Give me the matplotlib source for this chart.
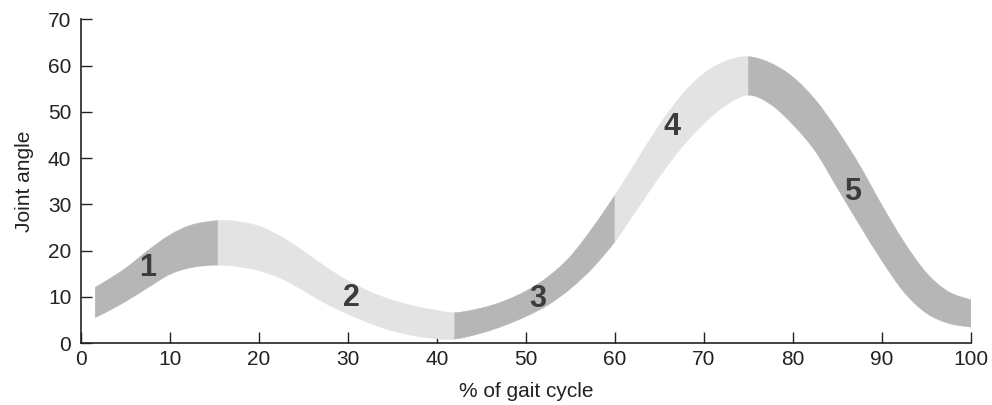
import numpy as np
import matplotlib
matplotlib.use("Agg")
import matplotlib.pyplot as plt
from matplotlib.path import Path
from matplotlib.patches import PathPatch

plt.rcParams['font.family'] = ['Liberation Sans', 'DejaVu Sans']

# Knee joint angle envelope over the gait cycle (upper and lower edge of the band)
gait_pct = [1.6, 2.5, 5, 7.5, 10, 12.5, 15.4, 17.5, 20, 22.5, 25, 27.5, 30,
            32.5, 35, 37.5, 40, 42, 45, 47.5, 50, 52.5, 55, 57.5, 60, 62.5,
            65, 67.5, 70, 72.5, 75, 77.5, 80, 82.5, 85, 87.5, 90, 92.5, 95,
            97.5, 100]
angle_upper = [12.1, 13.1, 16.2, 20.0, 23.4, 25.6, 26.5, 26.3, 25.3, 23.0,
               19.9, 16.5, 13.5, 11.1, 9.3, 8.0, 7.1, 6.6, 7.6, 9.1, 11.3,
               14.4, 18.8, 25.0, 32.0, 39.6, 47.2, 53.6, 58.3, 61.0, 61.9,
               60.5, 57.5, 52.6, 46.0, 38.4, 29.8, 21.8, 15.2, 11.1, 9.4]
angle_lower = [5.6, 6.4, 9.0, 12.0, 14.9, 16.4, 16.9, 16.6, 15.7, 14.0, 11.4,
               8.6, 6.3, 4.3, 2.7, 1.6, 1.0, 0.9, 2.2, 3.8, 5.8, 8.3, 11.8,
               16.3, 22.0, 29.0, 36.0, 42.3, 47.5, 51.5, 53.6, 51.6, 47.2,
               41.5, 33.5, 25.5, 17.8, 11.0, 6.5, 4.3, 3.5]

# Phase boundaries (% of gait cycle), labels and label anchor points
phase_bounds = [1.6, 15.4, 42, 60, 75, 100]
phase_names = ["1", "2", "3", "4", "5"]
phase_label_x = [7.5, 30.4, 51.3, 66.4, 86.7]
phase_label_y = [16.2, 9.8, 9.5, 46.7, 32.6]

x_ticks = [0, 10, 20, 30, 40, 50, 60, 70, 80, 90, 100]
y_ticks = [0, 10, 20, 30, 40, 50, 60, 70]

dark_grey = "#b6b6b6"
light_grey = "#e3e3e3"
phase_colors = [dark_grey, light_grey, dark_grey, light_grey, dark_grey]

x = np.array(gait_pct, dtype=float)
hi = np.array(angle_upper, dtype=float)
lo = np.array(angle_lower, dtype=float)


def smooth_edge(xs, ys, i0, i1, reverse=False):
    """Cubic Bezier pieces (Catmull-Rom tangents) along an edge from i0 to i1."""
    n = len(xs)
    pts = np.column_stack([xs, ys])
    verts = []
    order = range(i0, i1) if not reverse else range(i1, i0, -1)
    step = 1 if not reverse else -1
    for i in order:
        j = i + step
        p_prev = pts[max(min(i - step, n - 1), 0)]
        p0 = pts[i]
        p1 = pts[j]
        p_next = pts[max(min(j + step, n - 1), 0)]
        c1 = p0 + (p1 - p_prev) / 6.0
        c2 = p1 - (p_next - p0) / 6.0
        verts.extend([tuple(c1), tuple(c2), tuple(p1)])
    return verts


fig = plt.figure(figsize=(9.92, 4.05), dpi=100)
ax = fig.add_axes([81 / 992, 61.7 / 405, 890 / 992, 324.1 / 405])

for b0, b1, col in zip(phase_bounds[:-1], phase_bounds[1:], phase_colors):
    i0 = int(np.argmin(np.abs(x - b0)))
    i1 = int(np.argmin(np.abs(x - b1)))
    verts = [(x[i0], hi[i0])]
    codes = [Path.MOVETO]
    top = smooth_edge(x, hi, i0, i1)
    verts += top
    codes += [Path.CURVE4] * len(top)
    verts.append((x[i1], lo[i1]))
    codes.append(Path.LINETO)
    bot = smooth_edge(x, lo, i0, i1, reverse=True)
    verts += bot
    codes += [Path.CURVE4] * len(bot)
    verts.append((x[i0], hi[i0]))
    codes.append(Path.CLOSEPOLY)
    ax.add_patch(PathPatch(Path(verts, codes), facecolor=col, edgecolor=col,
                           linewidth=0.4, zorder=2))

for name, lx, ly in zip(phase_names, phase_label_x, phase_label_y):
    ax.text(lx, ly, name, ha="center", va="center", fontsize=22,
            fontweight="bold", color="#3c3c3c", zorder=3)

ax.set_xlim(0, 100)
ax.set_ylim(0, 70)
ax.set_xticks(x_ticks)
ax.set_yticks(y_ticks)
ax.spines["top"].set_visible(False)
ax.spines["right"].set_visible(False)
for s in ("left", "bottom"):
    ax.spines[s].set_linewidth(1.2)
    ax.spines[s].set_color("#222222")
ax.tick_params(axis="both", direction="in", length=8, width=1.0,
               color="#222222", labelsize=15, labelcolor="#222222")
ax.tick_params(axis="y", pad=7)
ax.tick_params(axis="x", pad=5)

ax.set_xlabel("% of gait cycle", fontsize=15, color="#222222", labelpad=9)
ax.set_ylabel("Joint angle", fontsize=15, color="#222222", labelpad=10)

fig.savefig("out.png", dpi=100)
